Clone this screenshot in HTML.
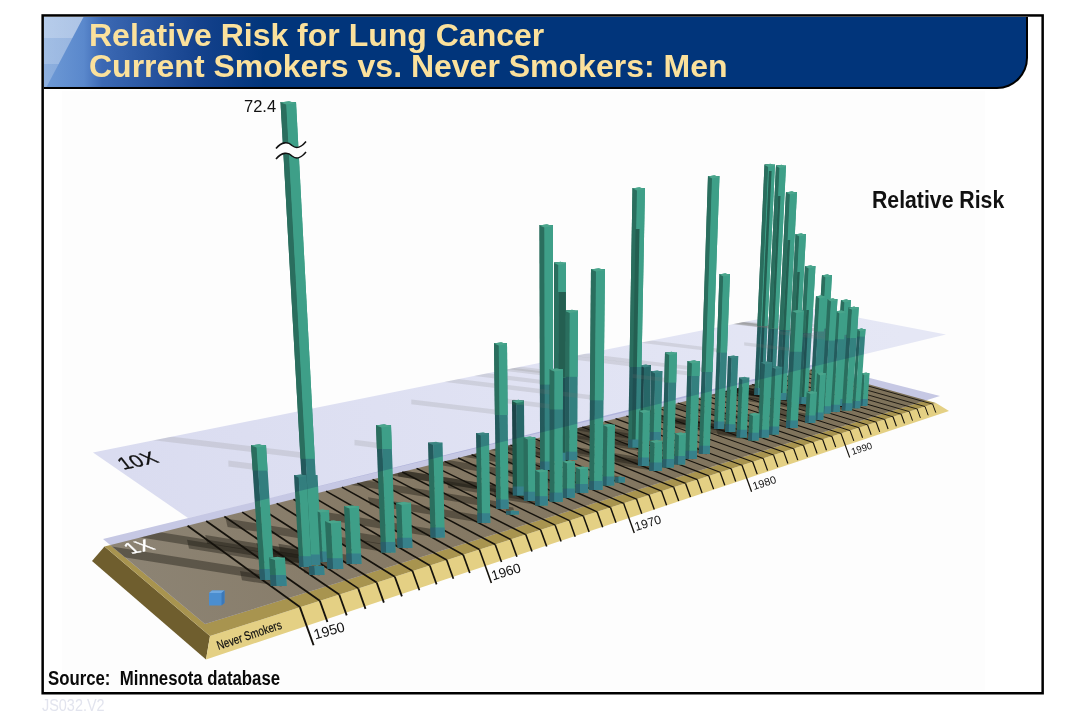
<!DOCTYPE html>
<html lang="en"><head><meta charset="utf-8"><title>Relative Risk for Lung Cancer</title>
<style>
html,body{margin:0;padding:0;background:#fff;}
body{width:1080px;height:720px;position:relative;overflow:hidden;font-family:"Liberation Sans",sans-serif;}
#frame{position:absolute;left:42px;top:15px;width:1001px;height:678px;box-sizing:border-box;border:1px solid #000;}
#banner{position:absolute;left:44px;top:17px;width:984px;height:72px;box-sizing:border-box;border-right:2px solid #000;border-bottom:2px solid #000;border-radius:0 0 31px 0;
 background:linear-gradient(90deg,#6e9ad6 0px,#5a88cc 40px,#3c69b4 58px,#2855a0 106px,#14418c 156px,#01357b 220px,#01357b 100%);overflow:hidden;}
#banner .hl{position:absolute;left:0;top:0;width:46px;height:70px;
 background:linear-gradient(180deg,rgba(255,255,255,0.5) 0,rgba(255,255,255,0.5) 21.5px,rgba(255,255,255,0.36) 21.5px,rgba(255,255,255,0.36) 47px,rgba(255,255,255,0.22) 47px,rgba(255,255,255,0.22) 100%);
 clip-path:polygon(0 0,39.5px 0,2.5px 70px,0 70px);}
#title{position:absolute;left:89px;top:20px;margin:0;font-weight:bold;font-size:32px;line-height:31.3px;color:#fbe19c;white-space:nowrap;}
#src{position:absolute;left:48px;top:667px;margin:0;font-weight:bold;font-size:19.5px;line-height:22px;color:#0a0a0a;white-space:pre;transform-origin:0 0;transform:scaleX(0.86);}
#code{position:absolute;left:42px;top:697px;margin:0;font-size:15.6px;line-height:18px;color:#e2e4ee;transform-origin:0 0;transform:scaleX(0.925);}
</style></head><body>
<div id="frame"></div>
<div id="banner"><div class="hl"></div></div>
<h1 id="title">Relative Risk for Lung Cancer<br>Current Smokers vs. Never Smokers: Men</h1>
<svg width="1080" height="720" viewBox="0 0 1080 720" style="position:absolute;left:0;top:0" font-family="'Liberation Sans', sans-serif">
<rect x="62" y="91" width="923" height="600" fill="#fdfdfd"/>
<polygon points="104.5,546.5 210,636 206,659.5 92,561" fill="#6f5e2e"/>
<polygon points="210,636 936,403 949,411 206,659.5" fill="#e4d084"/>
<polygon points="104.5,546.5 814,369 936,403 210,636" fill="#a8944f"/>
<defs><linearGradient id="g1" gradientUnits="userSpaceOnUse" x1="150" y1="600" x2="900" y2="400"><stop offset="0" stop-color="#8c8373"/><stop offset="0.3" stop-color="#867a66"/><stop offset="1" stop-color="#7e725a"/></linearGradient><clipPath id="cTop"><polygon points="104.5,546.5 814,369 936,403 210,636"/></clipPath><clipPath id="cP1"><polygon points="103,539 815,364 940,396 205,624"/></clipPath><clipPath id="cP1x"><polygon points="103,539 815,364 940,396 205,624"/></clipPath><clipPath id="cP10"><polygon points="93,452.5 811,308.5 946,334.5 188,518"/></clipPath></defs>
<polygon points="103,539 815,364 940,396 205,624" fill="#c6c8e4"/>
<g clip-path="url(#cTop)"><polygon points="103,539 815,364 940,396 205,624" fill="url(#g1)"/></g>
<g clip-path="url(#cP1)"><g clip-path="url(#cTop)">
<polygon points="268,571.5 270,580.5 97.3,552.9 95.3,543.9" fill="#1d1a14" opacity="0.42"/>
<polygon points="314.1,556.9 316.1,565.5 -812.9,384.9 -814.9,376.2" fill="#1d1a14" opacity="0.42"/>
<polygon points="306,558.8 308,567.5 189,548.5 187,539.8" fill="#1d1a14" opacity="0.42"/>
<polygon points="316.7,553 318.7,561.5 207.2,543.7 205.2,535.1" fill="#1d1a14" opacity="0.42"/>
<polygon points="279.6,577.4 281.6,586.5 242,580.2 240,571" fill="#1d1a14" opacity="0.42"/>
<polygon points="325.4,554 327.4,562.5 258.4,551.5 256.4,542.9" fill="#1d1a14" opacity="0.42"/>
<polygon points="336.2,560.8 338.2,569.5 274.2,559.3 272.2,550.5" fill="#1d1a14" opacity="0.42"/>
<polygon points="317.7,566.6 319.7,575.5 304.5,573.1 302.5,564.2" fill="#1d1a14" opacity="0.42"/>
<polygon points="354.9,555.9 356.9,564.5 280.4,552.3 278.4,543.7" fill="#1d1a14" opacity="0.42"/>
<polygon points="389,544.7 391,553 227.6,526.9 225.6,518.5" fill="#1d1a14" opacity="0.42"/>
<polygon points="405.8,540.3 407.8,548.5 346.9,538.8 344.9,530.6" fill="#1d1a14" opacity="0.42"/>
<polygon points="438.4,530.1 440.4,538 317.7,518.4 315.7,510.4" fill="#1d1a14" opacity="0.42"/>
<polygon points="484.5,515.9 486.5,523.5 370,504.9 368,497.3" fill="#1d1a14" opacity="0.42"/>
<polygon points="503,502.3 505,509.5 293.5,475.7 291.5,468.4" fill="#1d1a14" opacity="0.42"/>
<polygon points="513.2,507.6 515.2,515 506.8,513.7 504.8,506.3" fill="#1d1a14" opacity="0.42"/>
<polygon points="519.3,489.1 521.3,496 398.5,476.4 396.5,469.5" fill="#1d1a14" opacity="0.42"/>
<polygon points="530.4,494.5 532.4,501.5 448.4,488.1 446.4,481" fill="#1d1a14" opacity="0.42"/>
<polygon points="542.1,498.9 544.1,506 495.7,498.3 493.7,491.1" fill="#1d1a14" opacity="0.42"/>
<polygon points="547.2,464.2 549.2,470.5 238.9,420.9 236.9,414.6" fill="#1d1a14" opacity="0.42"/>
<polygon points="556.8,495.3 558.8,502.3 388.8,475.1 386.8,468.1" fill="#1d1a14" opacity="0.42"/>
<polygon points="560.2,455.5 562.2,461.5 310.1,421.2 308.1,415.1" fill="#1d1a14" opacity="0.42"/>
<polygon points="571.5,454.5 573.5,460.5 382.6,430 380.6,424" fill="#1d1a14" opacity="0.42"/>
<polygon points="569.3,491.4 571.3,498.3 521.3,490.3 519.3,483.4" fill="#1d1a14" opacity="0.42"/>
<polygon points="582.4,486.7 584.4,493.5 547.9,487.7 545.9,480.8" fill="#1d1a14" opacity="0.42"/>
<polygon points="596.5,483.8 598.5,490.5 318.2,445.7 316.2,438.9" fill="#1d1a14" opacity="0.42"/>
<polygon points="608.8,479.4 610.8,486 530.6,473.2 528.6,466.5" fill="#1d1a14" opacity="0.42"/>
<polygon points="620.4,476.4 622.4,483 611.5,481.3 609.5,474.7" fill="#1d1a14" opacity="0.42"/>
<polygon points="634.6,442.3 636.6,448 308.2,395.5 306.2,389.8" fill="#1d1a14" opacity="0.42"/>
<polygon points="644.5,436 646.5,441.5 547.5,425.7 545.5,420.1" fill="#1d1a14" opacity="0.42"/>
<polygon points="655.7,435 657.7,440.5 567.5,426.1 565.5,420.6" fill="#1d1a14" opacity="0.42"/>
<polygon points="643.9,460.4 645.9,466.5 572.5,454.8 570.5,448.6" fill="#1d1a14" opacity="0.42"/>
<polygon points="656.2,465.2 658.2,471.5 616,464.8 614,458.5" fill="#1d1a14" opacity="0.42"/>
<polygon points="668.6,461.8 670.6,468 522.9,444.4 520.9,438.2" fill="#1d1a14" opacity="0.42"/>
<polygon points="680.2,458.9 682.2,465 638.8,458.1 636.8,451.9" fill="#1d1a14" opacity="0.42"/>
<polygon points="691.3,453.5 693.3,459.5 566.8,439.3 564.8,433.3" fill="#1d1a14" opacity="0.42"/>
<polygon points="704.9,448.6 706.9,454.5 355.4,398.3 353.4,392.4" fill="#1d1a14" opacity="0.42"/>
<polygon points="719.5,424.3 721.5,429.5 523.8,397.9 521.8,392.6" fill="#1d1a14" opacity="0.42"/>
<polygon points="730.7,427.2 732.7,432.5 633.7,416.7 631.7,411.4" fill="#1d1a14" opacity="0.42"/>
<polygon points="742.2,432.6 744.2,438 665.2,425.4 663.2,419.9" fill="#1d1a14" opacity="0.42"/>
<polygon points="753.9,435.6 755.9,441.1 718,435 716,429.5" fill="#1d1a14" opacity="0.42"/>
<polygon points="759.8,391.1 761.8,395.5 469.6,348.8 467.6,344.4" fill="#1d1a14" opacity="0.42"/>
<polygon points="770.3,394.1 772.3,398.5 477.7,351.4 475.7,346.9" fill="#1d1a14" opacity="0.42"/>
<polygon points="781.6,396 783.6,400.5 519.6,358.3 517.6,353.8" fill="#1d1a14" opacity="0.42"/>
<polygon points="792.4,397.9 794.4,402.5 580.4,368.3 578.4,363.7" fill="#1d1a14" opacity="0.42"/>
<polygon points="803.2,399.9 805.2,404.5 628.7,376.3 626.7,371.7" fill="#1d1a14" opacity="0.42"/>
<polygon points="820.3,394.1 822.3,398.5 664.5,373.3 662.5,368.8" fill="#1d1a14" opacity="0.42"/>
<polygon points="815.4,397.9 817.4,402.5 680.9,380.7 678.9,376.1" fill="#1d1a14" opacity="0.42"/>
<polygon points="826.1,409.2 828.1,414 681,390.5 679,385.6" fill="#1d1a14" opacity="0.42"/>
<polygon points="835.2,407.7 837.2,412.5 706.9,391.7 704.9,386.9" fill="#1d1a14" opacity="0.42"/>
<polygon points="839.8,401.9 841.8,406.5 705.3,384.7 703.3,380" fill="#1d1a14" opacity="0.42"/>
<polygon points="763.7,432.6 765.7,438 667.3,422.3 665.3,416.8" fill="#1d1a14" opacity="0.42"/>
<polygon points="774.3,429.5 776.3,434.9 687.7,420.7 685.7,415.4" fill="#1d1a14" opacity="0.42"/>
<polygon points="792.4,423.3 794.4,428.5 643.5,404.4 641.5,399.2" fill="#1d1a14" opacity="0.42"/>
<polygon points="810.6,418.4 812.6,423.5 769.5,416.6 767.5,411.5" fill="#1d1a14" opacity="0.42"/>
<polygon points="819.2,415.5 821.2,420.5 758.4,410.5 756.4,405.5" fill="#1d1a14" opacity="0.42"/>
<polygon points="847.4,406.1 849.4,410.9 716.5,389.6 714.5,384.9" fill="#1d1a14" opacity="0.42"/>
<polygon points="856.5,404.1 858.5,408.8 755.4,392.3 753.4,387.6" fill="#1d1a14" opacity="0.42"/>
<polygon points="863.9,401.9 865.9,406.5 820.7,399.3 818.7,394.6" fill="#1d1a14" opacity="0.42"/>
</g></g>
<g stroke="#15120c" stroke-linecap="butt"><line x1="187.6" y1="525.7" x2="299.9" y2="607.1" stroke-width="1.8"/><line x1="299.9" y1="607.1" x2="313.6" y2="645.3" stroke-width="1.9"/><line x1="206.2" y1="521.1" x2="319.8" y2="600.8" stroke-width="1.8"/><line x1="319.8" y1="600.8" x2="327.4" y2="622" stroke-width="1.9"/><line x1="224.4" y1="516.5" x2="339.2" y2="594.5" stroke-width="1.7"/><line x1="339.2" y1="594.5" x2="346.7" y2="615.4" stroke-width="1.8"/><line x1="242.2" y1="512.1" x2="358.2" y2="588.4" stroke-width="1.7"/><line x1="358.2" y1="588.4" x2="365.5" y2="608.9" stroke-width="1.8"/><line x1="259.6" y1="507.7" x2="376.7" y2="582.5" stroke-width="1.7"/><line x1="376.7" y1="582.5" x2="383.9" y2="602.6" stroke-width="1.8"/><line x1="276.7" y1="503.4" x2="394.8" y2="576.7" stroke-width="1.7"/><line x1="394.8" y1="576.7" x2="401.9" y2="596.4" stroke-width="1.8"/><line x1="293.5" y1="499.2" x2="412.5" y2="571" stroke-width="1.6"/><line x1="412.5" y1="571" x2="419.4" y2="590.3" stroke-width="1.7"/><line x1="309.9" y1="495.1" x2="429.8" y2="565.5" stroke-width="1.6"/><line x1="429.8" y1="565.5" x2="436.6" y2="584.4" stroke-width="1.7"/><line x1="326.1" y1="491.1" x2="446.7" y2="560" stroke-width="1.6"/><line x1="446.7" y1="560" x2="453.4" y2="578.7" stroke-width="1.7"/><line x1="341.9" y1="487.1" x2="463.2" y2="554.7" stroke-width="1.6"/><line x1="463.2" y1="554.7" x2="469.8" y2="573" stroke-width="1.7"/><line x1="357.4" y1="483.2" x2="479.4" y2="549.5" stroke-width="1.5"/><line x1="479.4" y1="549.5" x2="491.4" y2="583" stroke-width="1.6"/><line x1="372.6" y1="479.4" x2="495.2" y2="544.5" stroke-width="1.5"/><line x1="495.2" y1="544.5" x2="501.5" y2="562.1" stroke-width="1.6"/><line x1="387.5" y1="475.7" x2="510.7" y2="539.5" stroke-width="1.5"/><line x1="510.7" y1="539.5" x2="516.9" y2="556.8" stroke-width="1.6"/><line x1="402.2" y1="472" x2="525.8" y2="534.6" stroke-width="1.5"/><line x1="525.8" y1="534.6" x2="532" y2="551.6" stroke-width="1.6"/><line x1="416.6" y1="468.4" x2="540.7" y2="529.9" stroke-width="1.5"/><line x1="540.7" y1="529.9" x2="546.7" y2="546.5" stroke-width="1.6"/><line x1="430.7" y1="464.9" x2="555.2" y2="525.2" stroke-width="1.4"/><line x1="555.2" y1="525.2" x2="561.1" y2="541.6" stroke-width="1.5"/><line x1="444.6" y1="461.4" x2="569.5" y2="520.6" stroke-width="1.4"/><line x1="569.5" y1="520.6" x2="575.2" y2="536.7" stroke-width="1.5"/><line x1="458.2" y1="458" x2="583.4" y2="516.2" stroke-width="1.4"/><line x1="583.4" y1="516.2" x2="589.1" y2="531.9" stroke-width="1.5"/><line x1="471.6" y1="454.7" x2="597.1" y2="511.8" stroke-width="1.4"/><line x1="597.1" y1="511.8" x2="602.7" y2="527.3" stroke-width="1.5"/><line x1="484.8" y1="451.4" x2="610.5" y2="507.5" stroke-width="1.4"/><line x1="610.5" y1="507.5" x2="616" y2="522.7" stroke-width="1.5"/><line x1="497.7" y1="448.1" x2="623.6" y2="503.3" stroke-width="1.3"/><line x1="623.6" y1="503.3" x2="634.3" y2="532.9" stroke-width="1.4"/><line x1="510.4" y1="445" x2="636.5" y2="499.1" stroke-width="1.3"/><line x1="636.5" y1="499.1" x2="641.8" y2="513.8" stroke-width="1.4"/><line x1="522.9" y1="441.8" x2="649.1" y2="495.1" stroke-width="1.3"/><line x1="649.1" y1="495.1" x2="654.3" y2="509.5" stroke-width="1.4"/><line x1="535.1" y1="438.8" x2="661.5" y2="491.1" stroke-width="1.3"/><line x1="661.5" y1="491.1" x2="666.6" y2="505.3" stroke-width="1.4"/><line x1="547.2" y1="435.7" x2="673.7" y2="487.2" stroke-width="1.3"/><line x1="673.7" y1="487.2" x2="678.7" y2="501.1" stroke-width="1.4"/><line x1="559.1" y1="432.8" x2="685.6" y2="483.4" stroke-width="1.3"/><line x1="685.6" y1="483.4" x2="690.5" y2="497" stroke-width="1.4"/><line x1="570.7" y1="429.9" x2="697.3" y2="479.6" stroke-width="1.2"/><line x1="697.3" y1="479.6" x2="702.1" y2="493" stroke-width="1.3"/><line x1="582.2" y1="427" x2="708.8" y2="475.9" stroke-width="1.2"/><line x1="708.8" y1="475.9" x2="713.6" y2="489.1" stroke-width="1.3"/><line x1="593.5" y1="424.2" x2="720.1" y2="472.3" stroke-width="1.2"/><line x1="720.1" y1="472.3" x2="724.8" y2="485.3" stroke-width="1.3"/><line x1="604.6" y1="421.4" x2="731.2" y2="468.7" stroke-width="1.2"/><line x1="731.2" y1="468.7" x2="735.7" y2="481.5" stroke-width="1.3"/><line x1="615.6" y1="418.6" x2="742" y2="465.2" stroke-width="1.2"/><line x1="742" y1="465.2" x2="751.6" y2="491.8" stroke-width="1.3"/><line x1="626.3" y1="416" x2="752.7" y2="461.8" stroke-width="1.2"/><line x1="752.7" y1="461.8" x2="757.2" y2="474.1" stroke-width="1.3"/><line x1="636.9" y1="413.3" x2="763.2" y2="458.4" stroke-width="1.1"/><line x1="763.2" y1="458.4" x2="767.6" y2="470.5" stroke-width="1.2"/><line x1="647.3" y1="410.7" x2="773.6" y2="455.1" stroke-width="1.1"/><line x1="773.6" y1="455.1" x2="777.8" y2="467" stroke-width="1.2"/><line x1="657.6" y1="408.1" x2="783.7" y2="451.9" stroke-width="1.1"/><line x1="783.7" y1="451.9" x2="787.9" y2="463.5" stroke-width="1.2"/><line x1="667.7" y1="405.6" x2="793.7" y2="448.7" stroke-width="1.1"/><line x1="793.7" y1="448.7" x2="797.8" y2="460.1" stroke-width="1.2"/><line x1="677.7" y1="403.1" x2="803.5" y2="445.5" stroke-width="1.1"/><line x1="803.5" y1="445.5" x2="807.5" y2="456.8" stroke-width="1.2"/><line x1="687.5" y1="400.7" x2="813.1" y2="442.4" stroke-width="1.1"/><line x1="813.1" y1="442.4" x2="817.1" y2="453.5" stroke-width="1.2"/><line x1="697.1" y1="398.2" x2="822.6" y2="439.4" stroke-width="1.1"/><line x1="822.6" y1="439.4" x2="826.5" y2="450.2" stroke-width="1.2"/><line x1="706.6" y1="395.9" x2="831.9" y2="436.4" stroke-width="1.1"/><line x1="831.9" y1="436.4" x2="835.7" y2="447.1" stroke-width="1.2"/><line x1="716" y1="393.5" x2="841" y2="433.5" stroke-width="1"/><line x1="841" y1="433.5" x2="849.7" y2="457.5" stroke-width="1.1"/><line x1="725.2" y1="391.2" x2="850.1" y2="430.6" stroke-width="1"/><line x1="850.1" y1="430.6" x2="853.8" y2="440.9" stroke-width="1.1"/><line x1="734.3" y1="388.9" x2="858.9" y2="427.7" stroke-width="1"/><line x1="858.9" y1="427.7" x2="862.6" y2="437.8" stroke-width="1.1"/><line x1="743.3" y1="386.7" x2="867.6" y2="424.9" stroke-width="1"/><line x1="867.6" y1="424.9" x2="871.2" y2="434.8" stroke-width="1.1"/><line x1="752.1" y1="384.5" x2="876.2" y2="422.2" stroke-width="1"/><line x1="876.2" y1="422.2" x2="879.7" y2="431.9" stroke-width="1.1"/><line x1="760.8" y1="382.3" x2="884.7" y2="419.5" stroke-width="1"/><line x1="884.7" y1="419.5" x2="888.1" y2="429" stroke-width="1.1"/><line x1="769.4" y1="380.2" x2="893" y2="416.8" stroke-width="1"/><line x1="893" y1="416.8" x2="896.4" y2="426.2" stroke-width="1.1"/><line x1="777.9" y1="378" x2="901.2" y2="414.2" stroke-width="1"/><line x1="901.2" y1="414.2" x2="904.5" y2="423.4" stroke-width="1.1"/><line x1="786.2" y1="375.9" x2="909.3" y2="411.6" stroke-width="0.9"/><line x1="909.3" y1="411.6" x2="912.5" y2="420.6" stroke-width="1"/><line x1="794.5" y1="373.9" x2="917.2" y2="409" stroke-width="0.9"/><line x1="917.2" y1="409" x2="920.4" y2="417.9" stroke-width="1"/><line x1="802.6" y1="371.9" x2="925" y2="406.5" stroke-width="0.9"/><line x1="925" y1="406.5" x2="928.2" y2="415.3" stroke-width="1"/><line x1="810.6" y1="369.9" x2="932.7" y2="404.1" stroke-width="0.9"/><line x1="932.7" y1="404.1" x2="935.8" y2="412.6" stroke-width="1"/></g>
<polygon points="209,593 212,590.5 224.5,590.5 224.5,603 221,605.5 209,605.5" fill="#4b8ed0"/>
<polygon points="209,593 212,590.5 224.5,590.5 221.5,593" fill="#6fa8e0"/>
<polygon points="221.5,593 224.5,590.5 224.5,603 221.5,605.5" fill="#3c78b8"/>
<polygon points="764.5,164.5 768.6,164.5 758.2,395 754.3,395" fill="#2a6e5e"/><polygon points="768.3,164.5 775,164.5 764.3,395 757.9,395" fill="#3e9f88"/><polygon points="768.9,171 771.6,171 761.3,395 758.8,395" fill="#245f51"/><polygon points="764.5,165.1 768.3,166.9 775,165.7 770.3,163.7" fill="#4aa58c"/>
<polygon points="754.6,388.1 758.5,388.1 758.2,395 754.3,395" fill="#2a5f69"/><polygon points="758.2,388.1 764.6,388.1 764.3,395 757.9,395" fill="#37818b"/>
<polygon points="776,165.5 779.9,165.5 768.8,398 765.1,398" fill="#2a6e5e"/><polygon points="779.6,165.5 786,165.5 774.6,398 768.5,398" fill="#3e9f88"/><polygon points="778.1,196 780.5,196 770.8,398 768.5,398" fill="#245f51"/><polygon points="776,166.1 779.6,167.9 786,166.7 781.5,164.7" fill="#4aa58c"/>
<polygon points="765.4,391 769.2,391 768.8,398 765.1,398" fill="#2a5f69"/><polygon points="768.9,391 775,391 774.6,398 768.5,398" fill="#37818b"/>
<polygon points="822,275 825.9,275 818.7,398 814.9,398" fill="#2a6e5e"/><polygon points="825.6,275 832,275 824.6,398 818.4,398" fill="#3e9f88"/><polygon points="822,275.6 825.6,277.4 832,276.2 827.5,274.2" fill="#4aa58c"/>
<polygon points="815.3,391 819.1,391 818.7,398 814.9,398" fill="#2a5f69"/><polygon points="818.8,391 825,391 824.6,398 818.4,398" fill="#37818b"/>
<polygon points="786,192 790.3,192 779.9,400 775.8,400" fill="#2a6e5e"/><polygon points="790,192 797,192 786.3,400 779.6,400" fill="#3e9f88"/><polygon points="787.6,240 790.2,240 782.1,400 779.6,400" fill="#245f51"/><polygon points="786,192.6 790,194.4 797,193.2 792,191.2" fill="#4aa58c"/>
<polygon points="776.1,393 780.2,393 779.9,400 775.8,400" fill="#2a5f69"/><polygon points="779.9,393 786.7,393 786.3,400 779.6,400" fill="#37818b"/>
<polygon points="795.5,234 799.6,234 790.8,402 786.8,402" fill="#2a6e5e"/><polygon points="799.3,234 806,234 797,402 790.5,402" fill="#3e9f88"/><polygon points="797.3,272 799.8,272 792.9,402 790.5,402" fill="#245f51"/><polygon points="795.5,234.6 799.3,236.4 806,235.2 801.3,233.2" fill="#4aa58c"/>
<polygon points="787.2,395 791.1,395 790.8,402 786.8,402" fill="#2a5f69"/><polygon points="790.8,395 797.3,395 797,402 790.5,402" fill="#37818b"/>
<polygon points="816,296 819.9,296 813.8,402 810,402" fill="#2a6e5e"/><polygon points="819.6,296 826,296 819.8,402 813.5,402" fill="#3e9f88"/><polygon points="816,296.6 819.6,298.4 826,297.2 821.5,295.2" fill="#4aa58c"/>
<polygon points="810.4,395 814.2,395 813.8,402 810,402" fill="#2a5f69"/><polygon points="813.9,395 820.2,395 819.8,402 813.5,402" fill="#37818b"/>
<polygon points="805,266 809.1,266 801.5,404 797.5,404" fill="#2a6e5e"/><polygon points="808.8,266 815.5,266 807.7,404 801.2,404" fill="#3e9f88"/><polygon points="806.4,310 808.9,310 803.7,404 801.2,404" fill="#245f51"/><polygon points="805,266.6 808.8,268.4 815.5,267.2 810.8,265.2" fill="#4aa58c"/>
<polygon points="797.9,396.9 801.9,396.9 801.5,404 797.5,404" fill="#2a5f69"/><polygon points="801.6,396.9 808.1,396.9 807.7,404 801.2,404" fill="#37818b"/>
<polygon points="841,300 844.9,300 838.2,406 834.4,406" fill="#2a6e5e"/><polygon points="844.6,300 851,300 844.2,406 837.9,406" fill="#3e9f88"/><polygon points="841,300.6 844.6,302.4 851,301.2 846.5,299.2" fill="#4aa58c"/>
<polygon points="834.9,398.9 838.7,398.9 838.2,406 834.4,406" fill="#2a5f69"/><polygon points="838.4,398.9 844.6,398.9 844.2,406 837.9,406" fill="#37818b"/>
<polygon points="862,373 865,373 862.8,406 859.8,406" fill="#2a6e5e"/><polygon points="864.7,373 869.6,373 867.3,406 862.5,406" fill="#3e9f88"/><polygon points="862,373.6 864.7,375.4 869.6,374.2 866.2,372.2" fill="#4aa58c"/>
<polygon points="860.2,398.9 863.3,398.9 862.8,406 859.8,406" fill="#2a5f69"/><polygon points="863,398.9 867.8,398.9 867.3,406 862.5,406" fill="#37818b"/>
<polygon points="857.3,329 860.6,329 855.3,408.3 852.1,408.3" fill="#2a6e5e"/><polygon points="860.3,329 865.5,329 860.1,408.3 855,408.3" fill="#3e9f88"/><polygon points="857.3,329.6 860.3,331.4 865.5,330.2 861.8,328.2" fill="#4aa58c"/>
<polygon points="852.5,401.1 855.7,401.1 855.3,408.3 852.1,408.3" fill="#2a5f69"/><polygon points="855.4,401.1 860.6,401.1 860.1,408.3 855,408.3" fill="#37818b"/>
<polygon points="848.3,307.3 852.4,307.3 845.7,410.4 841.7,410.4" fill="#2a6e5e"/><polygon points="852.1,307.3 858.8,307.3 852,410.4 845.4,410.4" fill="#3e9f88"/><polygon points="848.3,307.9 852.1,309.7 858.8,308.5 854.1,306.5" fill="#4aa58c"/>
<polygon points="842.2,403.2 846.2,403.2 845.7,410.4 841.7,410.4" fill="#2a5f69"/><polygon points="845.9,403.2 852.5,403.2 852,410.4 845.4,410.4" fill="#37818b"/>
<polygon points="836,311 839.9,311 833.6,412 829.8,412" fill="#2a6e5e"/><polygon points="839.6,311 846,311 839.6,412 833.3,412" fill="#3e9f88"/><polygon points="836,311.6 839.6,313.4 846,312.2 841.5,310.2" fill="#4aa58c"/>
<polygon points="830.3,404.7 834.1,404.7 833.6,412 829.8,412" fill="#2a5f69"/><polygon points="833.8,404.7 840.1,404.7 839.6,412 833.3,412" fill="#37818b"/>
<polygon points="827.5,299 831.4,299 824.5,413.5 820.7,413.5" fill="#2a6e5e"/><polygon points="831.1,299 837.5,299 830.5,413.5 824.2,413.5" fill="#3e9f88"/><polygon points="827.5,299.6 831.1,301.4 837.5,300.2 833,298.2" fill="#4aa58c"/>
<polygon points="821.1,406.2 825,406.2 824.5,413.5 820.7,413.5" fill="#2a5f69"/><polygon points="824.7,406.2 830.9,406.2 830.5,413.5 824.2,413.5" fill="#37818b"/>
<polygon points="817,373 820.5,373 817.8,420 814.3,420" fill="#2a6e5e"/><polygon points="820.2,373 826,373 823.2,420 817.5,420" fill="#3e9f88"/><polygon points="817,373.6 820.2,375.4 826,374.2 822,372.2" fill="#4aa58c"/>
<polygon points="814.7,412.6 818.2,412.6 817.8,420 814.3,420" fill="#2a5f69"/><polygon points="817.9,412.6 823.6,412.6 823.2,420 817.5,420" fill="#37818b"/>
<polygon points="806.7,391.7 810.7,391.7 808.9,423 805,423" fill="#2a6e5e"/><polygon points="810.4,391.7 817,391.7 815.2,423 808.6,423" fill="#3e9f88"/><polygon points="806.7,392.3 810.4,394.1 817,392.9 812.4,390.9" fill="#4aa58c"/>
<polygon points="805.4,415.5 809.4,415.5 808.9,423 805,423" fill="#2a5f69"/><polygon points="809.1,415.5 815.6,415.5 815.2,423 808.6,423" fill="#37818b"/>
<polygon points="792,310.5 796.6,310.5 790.4,428 785.9,428" fill="#2a6e5e"/><polygon points="796.3,310.5 804,310.5 797.6,428 790.1,428" fill="#3e9f88"/><polygon points="792,311.1 796.3,312.9 804,311.7 798.6,309.7" fill="#4aa58c"/>
<polygon points="786.3,420.4 790.8,420.4 790.4,428 785.9,428" fill="#2a5f69"/><polygon points="790.5,420.4 798,420.4 797.6,428 790.1,428" fill="#37818b"/>
<polygon points="719.5,274 723.6,274 717.9,429 713.9,429" fill="#2a6e5e"/><polygon points="723.3,274 730,274 724.1,429 717.6,429" fill="#3e9f88"/><polygon points="719.5,274.6 723.3,276.4 730,275.2 725.3,273.2" fill="#4aa58c"/>
<polygon points="714.2,421.4 718.2,421.4 717.9,429 713.9,429" fill="#2a5f69"/><polygon points="717.9,421.4 724.4,421.4 724.1,429 717.6,429" fill="#37818b"/>
<polygon points="728,356 732,356 729,432 725.1,432" fill="#2a6e5e"/><polygon points="731.7,356 738.3,356 735.2,432 728.7,432" fill="#3e9f88"/><polygon points="728,356.6 731.7,358.4 738.3,357.2 733.7,355.2" fill="#4aa58c"/>
<polygon points="725.4,424.3 729.3,424.3 729,432 725.1,432" fill="#2a5f69"/><polygon points="729,424.3 735.5,424.3 735.2,432 728.7,432" fill="#37818b"/>
<polygon points="772,366.7 776,366.7 772.7,434.4 768.8,434.4" fill="#2a6e5e"/><polygon points="775.7,366.7 782.3,366.7 778.9,434.4 772.4,434.4" fill="#3e9f88"/><polygon points="772,367.3 775.7,369.1 782.3,367.9 777.7,365.9" fill="#4aa58c"/>
<polygon points="769.1,426.6 773.1,426.6 772.7,434.4 768.8,434.4" fill="#2a5f69"/><polygon points="772.8,426.6 779.3,426.6 778.9,434.4 772.4,434.4" fill="#37818b"/>
<polygon points="739,377.5 743,377.5 740.5,437.5 736.5,437.5" fill="#2a6e5e"/><polygon points="742.7,377.5 749.4,377.5 746.8,437.5 740.2,437.5" fill="#3e9f88"/><polygon points="739,378.1 742.7,379.9 749.4,378.7 744.7,376.7" fill="#4aa58c"/>
<polygon points="736.9,429.7 740.9,429.7 740.5,437.5 736.5,437.5" fill="#2a5f69"/><polygon points="740.6,429.7 747.1,429.7 746.8,437.5 740.2,437.5" fill="#37818b"/>
<polygon points="761,362 765.4,362 761.9,437.5 757.6,437.5" fill="#2a6e5e"/><polygon points="765.1,362 772.3,362 768.7,437.5 761.6,437.5" fill="#3e9f88"/><polygon points="761,362.6 765.1,364.4 772.3,363.2 767.2,361.2" fill="#4aa58c"/>
<polygon points="757.9,429.7 762.2,429.7 761.9,437.5 757.6,437.5" fill="#2a5f69"/><polygon points="761.9,429.7 769.1,429.7 768.7,437.5 761.6,437.5" fill="#37818b"/>
<polygon points="651,371 655.4,371 653.9,440 649.5,440" fill="#2a6e5e"/><polygon points="655.1,371 662.5,371 660.8,440 653.6,440" fill="#3e9f88"/><polygon points="651,371.6 655.1,373.4 662.5,372.2 657.3,370.2" fill="#4aa58c"/>
<polygon points="649.7,432.1 654.1,432.1 653.9,440 649.5,440" fill="#2a5f69"/><polygon points="653.8,432.1 661,432.1 660.8,440 653.6,440" fill="#37818b"/>
<polygon points="749.4,413.5 753.4,413.5 752.2,440.6 748.2,440.6" fill="#2a6e5e"/><polygon points="753.1,413.5 759.8,413.5 758.6,440.6 751.9,440.6" fill="#3e9f88"/><polygon points="749.4,414.1 753.1,415.9 759.8,414.7 755.1,412.7" fill="#4aa58c"/>
<polygon points="748.6,432.7 752.6,432.7 752.2,440.6 748.2,440.6" fill="#2a5f69"/><polygon points="752.3,432.7 758.9,432.7 758.6,440.6 751.9,440.6" fill="#37818b"/>
<polygon points="640,365 644.3,365 642.7,441 638.5,441" fill="#1f5347"/><polygon points="644,365 651,365 649.4,441 642.4,441" fill="#2e7f6c"/><polygon points="640,365.6 644,367.4 651,366.2 646,364.2" fill="#4aa58c"/>
<polygon points="638.7,433.1 642.9,433.1 642.7,441 638.5,441" fill="#2a5f69"/><polygon points="642.6,433.1 649.5,433.1 649.4,441 642.4,441" fill="#37818b"/>
<polygon points="632.5,188 637.3,188 632.7,447.5 628.1,447.5" fill="#2a6e5e"/><polygon points="637,188 645,188 639.9,447.5 632.4,447.5" fill="#3e9f88"/><polygon points="635.5,229 639.5,229 635.4,447.5 631.7,447.5" fill="#245f51"/><polygon points="632.5,188.6 637,190.4 645,189.2 639.4,187.2" fill="#4aa58c"/>
<polygon points="628.2,439.5 632.8,439.5 632.7,447.5 628.1,447.5" fill="#2a5f69"/><polygon points="632.5,439.5 640.1,439.5 639.9,447.5 632.4,447.5" fill="#37818b"/>
<polygon points="708,176 712.4,176 703.1,454 698.9,454" fill="#2a6e5e"/><polygon points="712.1,176 719.5,176 709.7,454 702.8,454" fill="#3e9f88"/><polygon points="708,176.6 712.1,178.4 719.5,177.2 714.3,175.2" fill="#4aa58c"/>
<polygon points="699.2,445.8 703.4,445.8 703.1,454 698.9,454" fill="#2a5f69"/><polygon points="703.1,445.8 710,445.8 709.7,454 702.8,454" fill="#37818b"/>
<polygon points="687.5,361 692.3,361 689.3,459 684.6,459" fill="#2a6e5e"/><polygon points="692,361 700,361 696.8,459 689,459" fill="#3e9f88"/><polygon points="687.5,361.6 692,363.4 700,362.2 694.4,360.2" fill="#4aa58c"/>
<polygon points="684.9,450.7 689.6,450.7 689.3,459 684.6,459" fill="#2a5f69"/><polygon points="689.3,450.7 697.1,450.7 696.8,459 689,459" fill="#37818b"/>
<polygon points="565,310.5 570,310.5 569.4,460 564.6,460" fill="#2a6e5e"/><polygon points="569.7,310.5 578,310.5 577.2,460 569.1,460" fill="#3e9f88"/><polygon points="565,311.1 569.7,312.9 578,311.7 572.1,309.7" fill="#4aa58c"/>
<polygon points="564.6,451.7 569.4,451.7 569.4,460 564.6,460" fill="#2a5f69"/><polygon points="569.1,451.7 577.2,451.7 577.2,460 569.1,460" fill="#37818b"/>
<polygon points="554,262.5 558.6,262.5 558.4,461 553.9,461" fill="#2a6e5e"/><polygon points="558.3,262.5 566,262.5 565.4,461 558.1,461" fill="#3e9f88"/><polygon points="558.3,292 565.9,292 565.4,461 558.1,461" fill="#245f51"/><polygon points="554,263.1 558.3,264.9 566,263.7 560.6,261.7" fill="#4aa58c"/>
<polygon points="553.9,452.7 558.4,452.7 558.4,461 553.9,461" fill="#2a5f69"/><polygon points="558.1,452.7 565.4,452.7 565.4,461 558.1,461" fill="#37818b"/>
<polygon points="675,433 679.3,433 678.4,464.5 674.1,464.5" fill="#2a6e5e"/><polygon points="679,433 686,433 685.1,464.5 678.1,464.5" fill="#3e9f88"/><polygon points="675,433.6 679,435.4 686,434.2 681,432.2" fill="#4aa58c"/>
<polygon points="674.4,456.1 678.6,456.1 678.4,464.5 674.1,464.5" fill="#2a5f69"/><polygon points="678.3,456.1 685.3,456.1 685.1,464.5 678.1,464.5" fill="#37818b"/>
<polygon points="639,410.5 643.3,410.5 642.1,466 637.9,466" fill="#2a6e5e"/><polygon points="643,410.5 650,410.5 648.8,466 641.8,466" fill="#3e9f88"/><polygon points="639,411.1 643,412.9 650,411.7 645,409.7" fill="#4aa58c"/>
<polygon points="638.1,457.5 642.3,457.5 642.1,466 637.9,466" fill="#2a5f69"/><polygon points="642,457.5 649,457.5 648.8,466 641.8,466" fill="#37818b"/>
<polygon points="665,352.5 669.6,352.5 666.7,467.5 662.2,467.5" fill="#2a6e5e"/><polygon points="669.3,352.5 677,352.5 673.9,467.5 666.4,467.5" fill="#3e9f88"/><polygon points="665,353.1 669.3,354.9 677,353.7 671.6,351.7" fill="#4aa58c"/>
<polygon points="662.4,459 666.9,459 666.7,467.5 662.2,467.5" fill="#2a5f69"/><polygon points="666.6,459 674.1,459 673.9,467.5 666.4,467.5" fill="#37818b"/>
<polygon points="539.5,225 544.7,225 545.1,470 540.1,470" fill="#2a6e5e"/><polygon points="544.4,225 553,225 552.9,470 544.8,470" fill="#3e9f88"/><polygon points="539.5,225.6 544.4,227.4 553,226.2 546.9,224.2" fill="#4aa58c"/>
<polygon points="540.1,461.5 545,461.5 545.1,470 540.1,470" fill="#2a5f69"/><polygon points="544.7,461.5 552.9,461.5 552.9,470 544.8,470" fill="#37818b"/>
<polygon points="650,440.5 654.8,440.5 654.1,471 649.3,471" fill="#2a6e5e"/><polygon points="654.5,440.5 662.5,440.5 661.8,471 653.8,471" fill="#3e9f88"/><polygon points="650,441.1 654.5,442.9 662.5,441.7 656.9,439.7" fill="#4aa58c"/>
<polygon points="649.5,462.4 654.3,462.4 654.1,471 649.3,471" fill="#2a5f69"/><polygon points="654,462.4 662,462.4 661.8,471 653.8,471" fill="#37818b"/>
<polygon points="615,477 618.9,477 618.8,482.5 614.9,482.5" fill="#2a6e5e"/><polygon points="618.6,477 625,477 624.9,482.5 618.5,482.5" fill="#3e9f88"/><polygon points="615,477.6 618.6,479.4 625,478.2 620.5,476.2" fill="#4aa58c"/>
<polygon points="615,477 618.9,477 618.8,482.5 614.9,482.5" fill="#2a5f69"/><polygon points="618.6,477 625,477 624.9,482.5 618.5,482.5" fill="#37818b"/>
<polygon points="603,424.5 607.6,424.5 606.9,485.5 602.3,485.5" fill="#2a6e5e"/><polygon points="607.3,424.5 615,424.5 614.2,485.5 606.6,485.5" fill="#3e9f88"/><polygon points="603,425.1 607.3,426.9 615,425.7 609.6,423.7" fill="#4aa58c"/>
<polygon points="602.4,476.6 607,476.6 606.9,485.5 602.3,485.5" fill="#2a5f69"/><polygon points="606.7,476.6 614.3,476.6 614.2,485.5 606.6,485.5" fill="#37818b"/>
<polygon points="591,269 596.3,269 594.3,490 589.2,490" fill="#2a6e5e"/><polygon points="596,269 605,269 602.5,490 594,490" fill="#3e9f88"/><polygon points="591,269.6 596,271.4 605,270.2 598.7,268.2" fill="#4aa58c"/>
<polygon points="589.2,481 594.3,481 594.3,490 589.2,490" fill="#2a5f69"/><polygon points="594,481 602.6,481 602.5,490 594,490" fill="#37818b"/>
<polygon points="575.5,467 580.4,467 580.3,493 575.4,493" fill="#2a6e5e"/><polygon points="580.1,467 588.4,467 588.2,493 580,493" fill="#3e9f88"/><polygon points="575.5,467.6 580.1,469.4 588.4,468.2 582.6,466.2" fill="#4aa58c"/>
<polygon points="575.4,484 580.3,484 580.3,493 575.4,493" fill="#2a5f69"/><polygon points="580,484 588.3,484 588.2,493 580,493" fill="#37818b"/>
<polygon points="512,400.5 516.6,400.5 517.4,495.5 512.8,495.5" fill="#1f5347"/><polygon points="516.3,400.5 524,400.5 524.6,495.5 517.1,495.5" fill="#2e7f6c"/><polygon points="512,401.1 516.3,402.9 524,401.7 518.6,399.7" fill="#4aa58c"/>
<polygon points="512.8,486.4 517.3,486.4 517.4,495.5 512.8,495.5" fill="#2a5f69"/><polygon points="517,486.4 524.5,486.4 524.6,495.5 517.1,495.5" fill="#37818b"/>
<polygon points="562.7,461 567.4,461 567.3,497.8 562.6,497.8" fill="#2a6e5e"/><polygon points="567.1,461 575,461 574.8,497.8 567,497.8" fill="#3e9f88"/><polygon points="562.7,461.6 567.1,463.4 575,462.2 569.5,460.2" fill="#4aa58c"/>
<polygon points="562.6,488.6 567.3,488.6 567.3,497.8 562.6,497.8" fill="#2a5f69"/><polygon points="567,488.6 574.9,488.6 574.8,497.8 567,497.8" fill="#37818b"/>
<polygon points="523.5,437 528.1,437 528.5,501 523.9,501" fill="#2a6e5e"/><polygon points="527.8,437 535.5,437 535.7,501 528.2,501" fill="#3e9f88"/><polygon points="523.5,437.6 527.8,439.4 535.5,438.2 530.1,436.2" fill="#4aa58c"/>
<polygon points="523.8,491.8 528.4,491.8 528.5,501 523.9,501" fill="#2a5f69"/><polygon points="528.1,491.8 535.7,491.8 535.7,501 528.2,501" fill="#37818b"/>
<polygon points="549.5,369 554.7,369 554.6,501.8 549.6,501.8" fill="#2a6e5e"/><polygon points="554.4,369 563,369 562.7,501.8 554.3,501.8" fill="#3e9f88"/><polygon points="549.5,369.6 554.4,371.4 563,370.2 556.9,368.2" fill="#4aa58c"/>
<polygon points="549.6,492.6 554.6,492.6 554.6,501.8 549.6,501.8" fill="#2a5f69"/><polygon points="554.3,492.6 562.7,492.6 562.7,501.8 554.3,501.8" fill="#37818b"/>
<polygon points="535,470 539.9,470 540,505.5 535.1,505.5" fill="#2a6e5e"/><polygon points="539.6,470 547.8,470 547.8,505.5 539.7,505.5" fill="#3e9f88"/><polygon points="535,470.6 539.6,472.4 547.8,471.2 542,469.2" fill="#4aa58c"/>
<polygon points="535.1,496.2 540,496.2 540,505.5 535.1,505.5" fill="#2a5f69"/><polygon points="539.7,496.2 547.8,496.2 547.8,505.5 539.7,505.5" fill="#37818b"/>
<polygon points="494,343 499,343 500.9,509 496.1,509" fill="#2a6e5e"/><polygon points="498.7,343 507,343 508.6,509 500.6,509" fill="#3e9f88"/><polygon points="494,343.6 498.7,345.4 507,344.2 501.1,342.2" fill="#4aa58c"/>
<polygon points="496,499.6 500.8,499.6 500.9,509 496.1,509" fill="#2a5f69"/><polygon points="500.5,499.6 508.5,499.6 508.6,509 500.6,509" fill="#37818b"/>
<polygon points="506,511 511,511 511,514.5 506,514.5" fill="#2a6e5e"/><polygon points="510.7,511 519,511 519,514.5 510.7,514.5" fill="#3e9f88"/><polygon points="506,511.6 510.7,513.4 519,512.2 513.1,510.2" fill="#4aa58c"/>
<polygon points="506,511 511,511 511,514.5 506,514.5" fill="#2a5f69"/><polygon points="510.7,511 519,511 519,514.5 510.7,514.5" fill="#37818b"/>
<polygon points="476,433 481,433 482.4,523 477.5,523" fill="#2a6e5e"/><polygon points="480.7,433 489,433 490.3,523 482.1,523" fill="#3e9f88"/><polygon points="476,433.6 480.7,435.4 489,434.2 483.1,432.2" fill="#4aa58c"/>
<polygon points="477.4,513.3 482.2,513.3 482.4,523 477.5,523" fill="#2a5f69"/><polygon points="481.9,513.3 490.1,513.3 490.3,523 482.1,523" fill="#37818b"/>
<polygon points="428,442.5 433.5,442.5 436,537.5 430.6,537.5" fill="#2a6e5e"/><polygon points="433.2,442.5 442.5,442.5 444.8,537.5 435.7,537.5" fill="#3e9f88"/><polygon points="428,443.1 433.2,444.9 442.5,443.7 436,441.7" fill="#4aa58c"/>
<polygon points="430.3,527.5 435.8,527.5 436,537.5 430.6,537.5" fill="#2a5f69"/><polygon points="435.5,527.5 444.6,527.5 444.8,537.5 435.7,537.5" fill="#37818b"/>
<polygon points="396,502.5 401.7,502.5 403.2,548 397.6,548" fill="#2a6e5e"/><polygon points="401.4,502.5 411,502.5 412.4,548 402.9,548" fill="#3e9f88"/><polygon points="396,503.1 401.4,504.9 411,503.7 404.2,501.7" fill="#4aa58c"/>
<polygon points="397.2,537.7 402.9,537.7 403.2,548 397.6,548" fill="#2a5f69"/><polygon points="402.6,537.7 412.1,537.7 412.4,548 402.9,548" fill="#37818b"/>
<polygon points="376,425 381.7,425 386.5,552.5 381,552.5" fill="#2a6e5e"/><polygon points="381.4,425 391,425 395.5,552.5 386.2,552.5" fill="#3e9f88"/><polygon points="376,425.6 381.4,427.4 391,426.2 384.2,424.2" fill="#4aa58c"/>
<polygon points="380.6,542.1 386.1,542.1 386.5,552.5 381,552.5" fill="#2a5f69"/><polygon points="385.8,542.1 395.2,542.1 395.5,552.5 386.2,552.5" fill="#37818b"/>
<polygon points="305.5,475 310.1,475 314.8,561 310.2,561" fill="#2a6e5e"/><polygon points="309.8,475 317.5,475 322,561 314.5,561" fill="#3e9f88"/><polygon points="305.5,475.6 309.8,477.4 317.5,476.2 312.1,474.2" fill="#4aa58c"/>
<polygon points="309.7,550.5 314.2,550.5 314.8,561 310.2,561" fill="#2a5f69"/><polygon points="313.9,550.5 321.5,550.5 322,561 314.5,561" fill="#37818b"/>
<polygon points="315,510 320.3,510 323.1,562 317.8,562" fill="#2a6e5e"/><polygon points="320,510 329,510 331.6,562 322.8,562" fill="#3e9f88"/><polygon points="315,510.6 320,512.4 329,511.2 322.7,509.2" fill="#4aa58c"/>
<polygon points="317.2,551.4 322.5,551.4 323.1,562 317.8,562" fill="#2a5f69"/><polygon points="322.2,551.4 331.1,551.4 331.6,562 322.8,562" fill="#37818b"/>
<polygon points="344,506 349.7,506 352.3,564 346.7,564" fill="#2a6e5e"/><polygon points="349.4,506 359,506 361.5,564 352,564" fill="#3e9f88"/><polygon points="344,506.6 349.4,508.4 359,507.2 352.2,505.2" fill="#4aa58c"/>
<polygon points="346.2,553.4 351.9,553.4 352.3,564 346.7,564" fill="#2a5f69"/><polygon points="351.6,553.4 361.1,553.4 361.5,564 352,564" fill="#37818b"/>
<polygon points="280.5,102 286.4,102 311.8,565 306.4,565" fill="#2a6e5e"/><polygon points="286.1,102 296,102 320.4,565 311.5,565" fill="#3e9f88"/><polygon points="280.5,102.6 286.1,104.4 296,103.2 289,101.2" fill="#4aa58c"/>
<polygon points="305.8,554.4 311.2,554.4 311.8,565 306.4,565" fill="#2a5f69"/><polygon points="310.9,554.4 319.9,554.4 320.4,565 311.5,565" fill="#37818b"/>
<polygon points="294,475 298.8,475 304,567 299.3,567" fill="#2a6e5e"/><polygon points="298.5,475 306.5,475 311.5,567 303.7,567" fill="#3e9f88"/><polygon points="294,475.6 298.5,477.4 306.5,476.2 300.9,474.2" fill="#4aa58c"/>
<polygon points="298.7,556.3 303.4,556.3 304,567 299.3,567" fill="#2a5f69"/><polygon points="303.1,556.3 311,556.3 311.5,567 303.7,567" fill="#37818b"/>
<polygon points="325,521 331.1,521 333.5,569 327.5,569" fill="#2a6e5e"/><polygon points="330.8,521 341,521 343.3,569 333.2,569" fill="#3e9f88"/><polygon points="325,521.6 330.8,523.4 341,522.2 333.8,520.2" fill="#4aa58c"/>
<polygon points="326.9,558.3 332.9,558.3 333.5,569 327.5,569" fill="#2a5f69"/><polygon points="332.6,558.3 342.8,558.3 343.3,569 333.2,569" fill="#37818b"/>
<polygon points="309,566 314.7,566 315.2,575 309.5,575" fill="#2a6e5e"/><polygon points="314.4,566 324,566 324.5,575 314.9,575" fill="#3e9f88"/><polygon points="309,566.6 314.4,568.4 324,567.2 317.2,565.2" fill="#4aa58c"/>
<polygon points="309,566 314.7,566 315.2,575 309.5,575" fill="#2a5f69"/><polygon points="314.4,566 324,566 324.5,575 314.9,575" fill="#37818b"/>
<polygon points="251,445 256.7,445 265.6,580 260,580" fill="#2a6e5e"/><polygon points="256.4,445 266,445 274.6,580 265.3,580" fill="#3e9f88"/><polygon points="251,445.6 256.4,447.4 266,446.2 259.2,444.2" fill="#4aa58c"/>
<polygon points="259.3,569 264.8,569 265.6,580 260,580" fill="#2a5f69"/><polygon points="264.5,569 273.9,569 274.6,580 265.3,580" fill="#37818b"/>
<polygon points="269,557.5 275.1,557.5 276.9,586 270.8,586" fill="#2a6e5e"/><polygon points="274.8,557.5 285,557.5 286.7,586 276.6,586" fill="#3e9f88"/><polygon points="269,558.1 274.8,559.9 285,558.7 277.8,556.7" fill="#4aa58c"/>
<polygon points="270.1,574.9 276.2,574.9 276.9,586 270.8,586" fill="#2a5f69"/><polygon points="275.9,574.9 286.1,574.9 286.7,586 276.6,586" fill="#37818b"/>
<defs><linearGradient id="g10" gradientUnits="userSpaceOnUse" x1="120" y1="480" x2="900" y2="320"><stop offset="0" stop-color="#dcdef2"/><stop offset="0.5" stop-color="#e2e4f5"/><stop offset="1" stop-color="#e7e9f7"/></linearGradient></defs>
<polygon points="93,452.5 811,308.5 946,334.5 188,518" fill="url(#g10)" style="mix-blend-mode:multiply"/>
<g clip-path="url(#cP10)"><g opacity="0.14"><polygon points="757.3,326.1 767.5,326.1 764.3,395 754.3,395" fill="#20306e"/><polygon points="768.4,328.4 778,328.4 774.6,398 765.1,398" fill="#20306e"/><polygon points="818.9,328.4 828.8,328.4 824.6,398 814.9,398" fill="#20306e"/><polygon points="779.2,330 789.9,330 786.3,400 775.8,400" fill="#20306e"/><polygon points="790.5,331.5 800.7,331.5 797,402 786.8,402" fill="#20306e"/><polygon points="814,331.5 823.9,331.5 819.8,402 810,402" fill="#20306e"/><polygon points="801.4,333.1 811.7,333.1 807.7,404 797.5,404" fill="#20306e"/><polygon points="838.8,334.7 848.8,334.7 844.2,406 834.4,406" fill="#20306e"/><polygon points="862,373 869.6,373 867.3,406 859.8,406" fill="#20306e"/><polygon points="856.8,336.5 865,336.5 860.1,408.3 852.1,408.3" fill="#20306e"/><polygon points="846.3,338.1 856.8,338.1 852,410.4 841.7,410.4" fill="#20306e"/><polygon points="834.3,339.3 844.2,339.3 839.6,412 829.8,412" fill="#20306e"/><polygon points="825,340.5 835,340.5 830.5,413.5 820.7,413.5" fill="#20306e"/><polygon points="817,373 826,373 823.2,420 814.3,420" fill="#20306e"/><polygon points="806.7,391.7 817,391.7 815.2,423 805,423" fill="#20306e"/><polygon points="789.9,351.8 801.8,351.8 797.6,428 785.9,428" fill="#20306e"/><polygon points="716.7,352.6 727,352.6 724.1,429 713.9,429" fill="#20306e"/><polygon points="728,356 738.3,356 735.2,432 725.1,432" fill="#20306e"/><polygon points="772,366.7 782.3,366.7 778.9,434.4 768.8,434.4" fill="#20306e"/><polygon points="739,377.5 749.4,377.5 746.8,437.5 736.5,437.5" fill="#20306e"/><polygon points="761,362 772.3,362 768.7,437.5 757.6,437.5" fill="#20306e"/><polygon points="651,371 662.5,371 660.8,440 649.5,440" fill="#20306e"/><polygon points="749.4,413.5 759.8,413.5 758.6,440.6 748.2,440.6" fill="#20306e"/><polygon points="640,365 651,365 649.4,441 638.5,441" fill="#20306e"/><polygon points="629.5,367 641.5,367 639.9,447.5 628.1,447.5" fill="#20306e"/><polygon points="701.6,372.1 712.6,372.1 709.7,454 698.9,454" fill="#20306e"/><polygon points="687.1,376 699.5,376 696.8,459 684.6,459" fill="#20306e"/><polygon points="564.8,376.8 577.6,376.8 577.2,460 564.6,460" fill="#20306e"/><polygon points="554,377.6 565.7,377.6 565.4,461 553.9,461" fill="#20306e"/><polygon points="675,433 686,433 685.1,464.5 674.1,464.5" fill="#20306e"/><polygon points="639,410.5 650,410.5 648.8,466 637.9,466" fill="#20306e"/><polygon points="664.3,382.6 676.2,382.6 673.9,467.5 662.2,467.5" fill="#20306e"/><polygon points="539.9,384.6 553,384.6 552.9,470 540.1,470" fill="#20306e"/><polygon points="650,440.5 662.5,440.5 661.8,471 649.3,471" fill="#20306e"/><polygon points="615,477 625,477 624.9,482.5 614.9,482.5" fill="#20306e"/><polygon points="603,424.5 615,424.5 614.2,485.5 602.3,485.5" fill="#20306e"/><polygon points="589.9,400.2 603.5,400.2 602.5,490 589.2,490" fill="#20306e"/><polygon points="575.5,467 588.4,467 588.2,493 575.4,493" fill="#20306e"/><polygon points="512,404.5 524,404.5 524.6,495.5 512.8,495.5" fill="#20306e"/><polygon points="562.7,461 575,461 574.8,497.8 562.6,497.8" fill="#20306e"/><polygon points="523.5,437 535.5,437 535.7,501 523.9,501" fill="#20306e"/><polygon points="549.5,409.4 562.9,409.4 562.7,501.8 549.6,501.8" fill="#20306e"/><polygon points="535,470 547.8,470 547.8,505.5 535.1,505.5" fill="#20306e"/><polygon points="494.9,415 507.7,415 508.6,509 496.1,509" fill="#20306e"/><polygon points="506,511 519,511 519,514.5 506,514.5" fill="#20306e"/><polygon points="476,433 489,433 490.3,523 477.5,523" fill="#20306e"/><polygon points="428,442.5 442.5,442.5 444.8,537.5 430.6,537.5" fill="#20306e"/><polygon points="396,502.5 411,502.5 412.4,548 397.6,548" fill="#20306e"/><polygon points="376.9,448.9 391.9,448.9 395.5,552.5 381,552.5" fill="#20306e"/><polygon points="305.5,475 317.5,475 322,561 310.2,561" fill="#20306e"/><polygon points="315,510 329,510 331.6,562 317.8,562" fill="#20306e"/><polygon points="344,506 359,506 361.5,564 346.7,564" fill="#20306e"/><polygon points="300.5,458.7 314.8,458.7 320.4,565 306.4,565" fill="#20306e"/><polygon points="294,475 306.5,475 311.5,567 299.3,567" fill="#20306e"/><polygon points="325,521 341,521 343.3,569 327.5,569" fill="#20306e"/><polygon points="309,566 324,566 324.5,575 309.5,575" fill="#20306e"/><polygon points="252.7,470.4 267.6,470.4 274.6,580 260,580" fill="#20306e"/><polygon points="269,557.5 285,557.5 286.7,586 270.8,586" fill="#20306e"/></g></g>
<g clip-path="url(#cP10)">
<polygon points="260.2,464.4 260.2,470.4 228.4,466.6 228.4,460.6" fill="#77776f" opacity="0.17"/>
<polygon points="307.7,452.9 307.7,458.7 -692.3,338.7 -692.3,332.9" fill="#77776f" opacity="0.17"/>
<polygon points="384.4,443.4 384.4,448.9 354.5,445.3 354.5,439.8" fill="#77776f" opacity="0.17"/>
<polygon points="501.3,410.2 501.3,415 411.3,404.2 411.3,399.4" fill="#77776f" opacity="0.17"/>
<polygon points="518,399.9 518,404.5 513.1,403.9 513.1,399.3" fill="#77776f" opacity="0.17"/>
<polygon points="546.4,380.4 546.4,384.6 347,360.6 347,356.5" fill="#77776f" opacity="0.17"/>
<polygon points="556.2,404.7 556.2,409.4 505.7,403.3 505.7,398.6" fill="#77776f" opacity="0.17"/>
<polygon points="559.8,373.5 559.8,377.6 416,360.3 416,356.3" fill="#77776f" opacity="0.17"/>
<polygon points="571.2,372.8 571.2,376.8 488.4,366.8 488.4,362.8" fill="#77776f" opacity="0.17"/>
<polygon points="596.7,395.7 596.7,400.2 432.7,380.5 432.7,376" fill="#77776f" opacity="0.17"/>
<polygon points="635.5,363.2 635.5,367 411.7,340.2 411.7,336.4" fill="#77776f" opacity="0.17"/>
<polygon points="670.2,378.5 670.2,382.6 632.6,378.1 632.6,374" fill="#77776f" opacity="0.17"/>
<polygon points="693.3,372 693.3,376 674.5,373.8 674.5,369.8" fill="#77776f" opacity="0.17"/>
<polygon points="707.1,368.2 707.1,372.1 462,342.7 462,338.8" fill="#77776f" opacity="0.17"/>
<polygon points="721.8,349.1 721.8,352.6 623.6,340.8 623.6,337.3" fill="#77776f" opacity="0.17"/>
<polygon points="762.4,323.2 762.4,326.1 560.4,301.8 560.4,298.9" fill="#77776f" opacity="0.17"/>
<polygon points="773.2,325.5 773.2,328.4 569.6,304 569.6,301" fill="#77776f" opacity="0.17"/>
<polygon points="784.6,327 784.6,330 612.1,309.3 612.1,306.3" fill="#77776f" opacity="0.17"/>
<polygon points="795.6,328.5 795.6,331.5 673.7,316.9 673.7,313.9" fill="#77776f" opacity="0.17"/>
<polygon points="806.6,330 806.6,333.1 722.7,323 722.7,320" fill="#77776f" opacity="0.17"/>
<polygon points="823.9,325.5 823.9,328.4 757.1,320.4 757.1,317.4" fill="#77776f" opacity="0.17"/>
<polygon points="818.9,328.5 818.9,331.5 774.5,326.2 774.5,323.2" fill="#77776f" opacity="0.17"/>
<polygon points="830,337.3 830,340.5 778.1,334.3 778.1,331.1" fill="#77776f" opacity="0.17"/>
<polygon points="839.2,336.1 839.2,339.3 803.8,335.1 803.8,331.9" fill="#77776f" opacity="0.17"/>
<polygon points="843.8,331.6 843.8,334.7 800.5,329.5 800.5,326.4" fill="#77776f" opacity="0.17"/>
<polygon points="795.8,348.4 795.8,351.8 744.2,345.6 744.2,342.2" fill="#77776f" opacity="0.17"/>
<polygon points="851.6,334.9 851.6,338.1 813.1,333.5 813.1,330.3" fill="#77776f" opacity="0.17"/>
<polygon points="860.9,333.3 860.9,336.5 851.6,335.3 851.6,332.2" fill="#77776f" opacity="0.17"/>
</g>
<polygon points="764.5,164.5 768.6,164.5 761.3,326.1 757.3,326.1" fill="#2a6e5e"/><polygon points="768.3,164.5 775,164.5 767.5,326.1 761,326.1" fill="#3e9f88"/><polygon points="768.9,171 771.6,171 764.4,326.1 761.9,326.1" fill="#245f51"/><polygon points="764.5,165.1 768.3,166.9 775,165.7 770.3,163.7" fill="#4aa58c"/>
<polygon points="776,165.5 779.9,165.5 772.1,328.4 768.4,328.4" fill="#2a6e5e"/><polygon points="779.6,165.5 786,165.5 778,328.4 771.8,328.4" fill="#3e9f88"/><polygon points="778.1,196 780.5,196 774.2,328.4 771.8,328.4" fill="#245f51"/><polygon points="776,166.1 779.6,167.9 786,166.7 781.5,164.7" fill="#4aa58c"/>
<polygon points="822,275 825.9,275 822.8,328.4 818.9,328.4" fill="#2a6e5e"/><polygon points="825.6,275 832,275 828.8,328.4 822.5,328.4" fill="#3e9f88"/><polygon points="822,275.6 825.6,277.4 832,276.2 827.5,274.2" fill="#4aa58c"/>
<polygon points="786,192 790.3,192 783.4,330 779.2,330" fill="#2a6e5e"/><polygon points="790,192 797,192 789.9,330 783.1,330" fill="#3e9f88"/><polygon points="787.6,240 790.2,240 785.6,330 783.1,330" fill="#245f51"/><polygon points="786,192.6 790,194.4 797,193.2 792,191.2" fill="#4aa58c"/>
<polygon points="795.5,234 799.6,234 794.5,331.5 790.5,331.5" fill="#2a6e5e"/><polygon points="799.3,234 806,234 800.7,331.5 794.2,331.5" fill="#3e9f88"/><polygon points="797.3,272 799.8,272 796.6,331.5 794.2,331.5" fill="#245f51"/><polygon points="795.5,234.6 799.3,236.4 806,235.2 801.3,233.2" fill="#4aa58c"/>
<polygon points="816,296 819.9,296 817.9,331.5 814,331.5" fill="#2a6e5e"/><polygon points="819.6,296 826,296 823.9,331.5 817.6,331.5" fill="#3e9f88"/><polygon points="816,296.6 819.6,298.4 826,297.2 821.5,295.2" fill="#4aa58c"/>
<polygon points="805,266 809.1,266 805.4,333.1 801.4,333.1" fill="#2a6e5e"/><polygon points="808.8,266 815.5,266 811.7,333.1 805.1,333.1" fill="#3e9f88"/><polygon points="806.4,310 808.9,310 807.6,333.1 805.1,333.1" fill="#245f51"/><polygon points="805,266.6 808.8,268.4 815.5,267.2 810.8,265.2" fill="#4aa58c"/>
<polygon points="841,300 844.9,300 842.7,334.7 838.8,334.7" fill="#2a6e5e"/><polygon points="844.6,300 851,300 848.8,334.7 842.4,334.7" fill="#3e9f88"/><polygon points="841,300.6 844.6,302.4 851,301.2 846.5,299.2" fill="#4aa58c"/>
<polygon points="857.3,329 860.6,329 860.1,336.5 856.8,336.5" fill="#2a6e5e"/><polygon points="860.3,329 865.5,329 865,336.5 859.8,336.5" fill="#3e9f88"/><polygon points="857.3,329.6 860.3,331.4 865.5,330.2 861.8,328.2" fill="#4aa58c"/>
<polygon points="848.3,307.3 852.4,307.3 850.4,338.1 846.3,338.1" fill="#2a6e5e"/><polygon points="852.1,307.3 858.8,307.3 856.8,338.1 850.1,338.1" fill="#3e9f88"/><polygon points="848.3,307.9 852.1,309.7 858.8,308.5 854.1,306.5" fill="#4aa58c"/>
<polygon points="836,311 839.9,311 838.1,339.3 834.3,339.3" fill="#2a6e5e"/><polygon points="839.6,311 846,311 844.2,339.3 837.8,339.3" fill="#3e9f88"/><polygon points="836,311.6 839.6,313.4 846,312.2 841.5,310.2" fill="#4aa58c"/>
<polygon points="827.5,299 831.4,299 828.9,340.5 825,340.5" fill="#2a6e5e"/><polygon points="831.1,299 837.5,299 835,340.5 828.6,340.5" fill="#3e9f88"/><polygon points="827.5,299.6 831.1,301.4 837.5,300.2 833,298.2" fill="#4aa58c"/>
<polygon points="792,310.5 796.6,310.5 794.4,351.8 789.9,351.8" fill="#2a6e5e"/><polygon points="796.3,310.5 804,310.5 801.8,351.8 794.1,351.8" fill="#3e9f88"/><polygon points="792,311.1 796.3,312.9 804,311.7 798.6,309.7" fill="#4aa58c"/>
<polygon points="719.5,274 723.6,274 720.7,352.6 716.7,352.6" fill="#2a6e5e"/><polygon points="723.3,274 730,274 727,352.6 720.4,352.6" fill="#3e9f88"/><polygon points="719.5,274.6 723.3,276.4 730,275.2 725.3,273.2" fill="#4aa58c"/>
<polygon points="632.5,188 637.3,188 634.1,367 629.5,367" fill="#2a6e5e"/><polygon points="637,188 645,188 641.5,367 633.8,367" fill="#3e9f88"/><polygon points="635.5,229 639.5,229 636.9,367 633.1,367" fill="#245f51"/><polygon points="632.5,188.6 637,190.4 645,189.2 639.4,187.2" fill="#4aa58c"/>
<polygon points="708,176 712.4,176 705.9,372.1 701.6,372.1" fill="#2a6e5e"/><polygon points="712.1,176 719.5,176 712.6,372.1 705.6,372.1" fill="#3e9f88"/><polygon points="708,176.6 712.1,178.4 719.5,177.2 714.3,175.2" fill="#4aa58c"/>
<polygon points="687.5,361 692.3,361 691.8,376 687.1,376" fill="#2a6e5e"/><polygon points="692,361 700,361 699.5,376 691.5,376" fill="#3e9f88"/><polygon points="687.5,361.6 692,363.4 700,362.2 694.4,360.2" fill="#4aa58c"/>
<polygon points="565,310.5 570,310.5 569.7,376.8 564.8,376.8" fill="#2a6e5e"/><polygon points="569.7,310.5 578,310.5 577.6,376.8 569.4,376.8" fill="#3e9f88"/><polygon points="565,311.1 569.7,312.9 578,311.7 572.1,309.7" fill="#4aa58c"/>
<polygon points="554,262.5 558.6,262.5 558.5,377.6 554,377.6" fill="#2a6e5e"/><polygon points="558.3,262.5 566,262.5 565.7,377.6 558.2,377.6" fill="#3e9f88"/><polygon points="558.3,292 565.9,292 565.7,377.6 558.2,377.6" fill="#245f51"/><polygon points="554,263.1 558.3,264.9 566,263.7 560.6,261.7" fill="#4aa58c"/>
<polygon points="665,352.5 669.6,352.5 668.9,382.6 664.3,382.6" fill="#2a6e5e"/><polygon points="669.3,352.5 677,352.5 676.2,382.6 668.6,382.6" fill="#3e9f88"/><polygon points="665,353.1 669.3,354.9 677,353.7 671.6,351.7" fill="#4aa58c"/>
<polygon points="539.5,225 544.7,225 544.9,384.6 539.9,384.6" fill="#2a6e5e"/><polygon points="544.4,225 553,225 553,384.6 544.6,384.6" fill="#3e9f88"/><polygon points="539.5,225.6 544.4,227.4 553,226.2 546.9,224.2" fill="#4aa58c"/>
<polygon points="591,269 596.3,269 595.1,400.2 589.9,400.2" fill="#2a6e5e"/><polygon points="596,269 605,269 603.5,400.2 594.8,400.2" fill="#3e9f88"/><polygon points="591,269.6 596,271.4 605,270.2 598.7,268.2" fill="#4aa58c"/>
<polygon points="512,400.5 516.6,400.5 516.7,404.5 512,404.5" fill="#1f5347"/><polygon points="516.3,400.5 524,400.5 524,404.5 516.4,404.5" fill="#2e7f6c"/><polygon points="512,401.1 516.3,402.9 524,401.7 518.6,399.7" fill="#4aa58c"/>
<polygon points="549.5,369 554.7,369 554.6,409.4 549.5,409.4" fill="#2a6e5e"/><polygon points="554.4,369 563,369 562.9,409.4 554.3,409.4" fill="#3e9f88"/><polygon points="549.5,369.6 554.4,371.4 563,370.2 556.9,368.2" fill="#4aa58c"/>
<polygon points="494,343 499,343 499.8,415 494.9,415" fill="#2a6e5e"/><polygon points="498.7,343 507,343 507.7,415 499.5,415" fill="#3e9f88"/><polygon points="494,343.6 498.7,345.4 507,344.2 501.1,342.2" fill="#4aa58c"/>
<polygon points="376,425 381.7,425 382.6,448.9 376.9,448.9" fill="#2a6e5e"/><polygon points="381.4,425 391,425 391.9,448.9 382.3,448.9" fill="#3e9f88"/><polygon points="376,425.6 381.4,427.4 391,426.2 384.2,424.2" fill="#4aa58c"/>
<polygon points="280.5,102 286.4,102 305.9,458.7 300.5,458.7" fill="#2a6e5e"/><polygon points="286.1,102 296,102 314.8,458.7 305.6,458.7" fill="#3e9f88"/><polygon points="280.5,102.6 286.1,104.4 296,103.2 289,101.2" fill="#4aa58c"/>
<polygon points="251,445 256.7,445 258.4,470.4 252.7,470.4" fill="#2a6e5e"/><polygon points="256.4,445 266,445 267.6,470.4 258.1,470.4" fill="#3e9f88"/><polygon points="251,445.6 256.4,447.4 266,446.2 259.2,444.2" fill="#4aa58c"/>
<path d="M276,148.5 C282,141.5 288,141.5 292,145.5 C297,149.5 301,147.5 306,141.5 L306,152 C301,158 297,160 292,156 C288,152 282,152 276,159 Z" fill="#fdfdfd"/>
<path d="M276,148.5 C282,141.5 288,141.5 292,145.5 C297,149.5 301,147.5 306,141.5" fill="none" stroke="#111" stroke-width="1.6"/>
<path d="M276,159 C282,152 288,152 292,156 C297,160 301,158 306,152" fill="none" stroke="#111" stroke-width="1.6"/>
<text x="244" y="112" font-size="16.5" fill="#111">72.4</text>
<text transform="translate(872,208) scale(0.885,1)" font-size="24" font-weight="bold" fill="#111">Relative Risk</text>
<text transform="matrix(0.955,-0.194,0.58,0.73,123.4,469.7)" font-size="21.5" fill="#111" stroke="#111" stroke-width="0.35">10X</text>
<text transform="matrix(0.95,-0.19,0.68,0.655,131.2,554)" font-size="21.5" fill="#fff" stroke="#fff" stroke-width="0.4">1X</text>
<text transform="translate(218.5,650) rotate(-18.7) scale(0.78,1)" font-size="12.6" fill="#111" stroke="#111" stroke-width="0.2">Never Smokers</text>
<text transform="translate(315.3,639.5) rotate(-15.6)" font-size="14.2" fill="#111">1950</text>
<text transform="translate(493,580.5) rotate(-17)" font-size="13.5" fill="#111">1960</text>
<text transform="translate(636,531) rotate(-17)" font-size="12.3" fill="#111">1970</text>
<text transform="translate(754,490) rotate(-18)" font-size="10.8" fill="#111">1980</text>
<text transform="translate(852.5,455) rotate(-18)" font-size="9.6" fill="#111">1990</text>
<rect x="42.65" y="15.45" width="1000" height="677.8" fill="none" stroke="#000" stroke-width="2.5"/>
</svg>
<p id="src">Source:  Minnesota database</p>
<p id="code">JS032.V2</p>
</body></html>
